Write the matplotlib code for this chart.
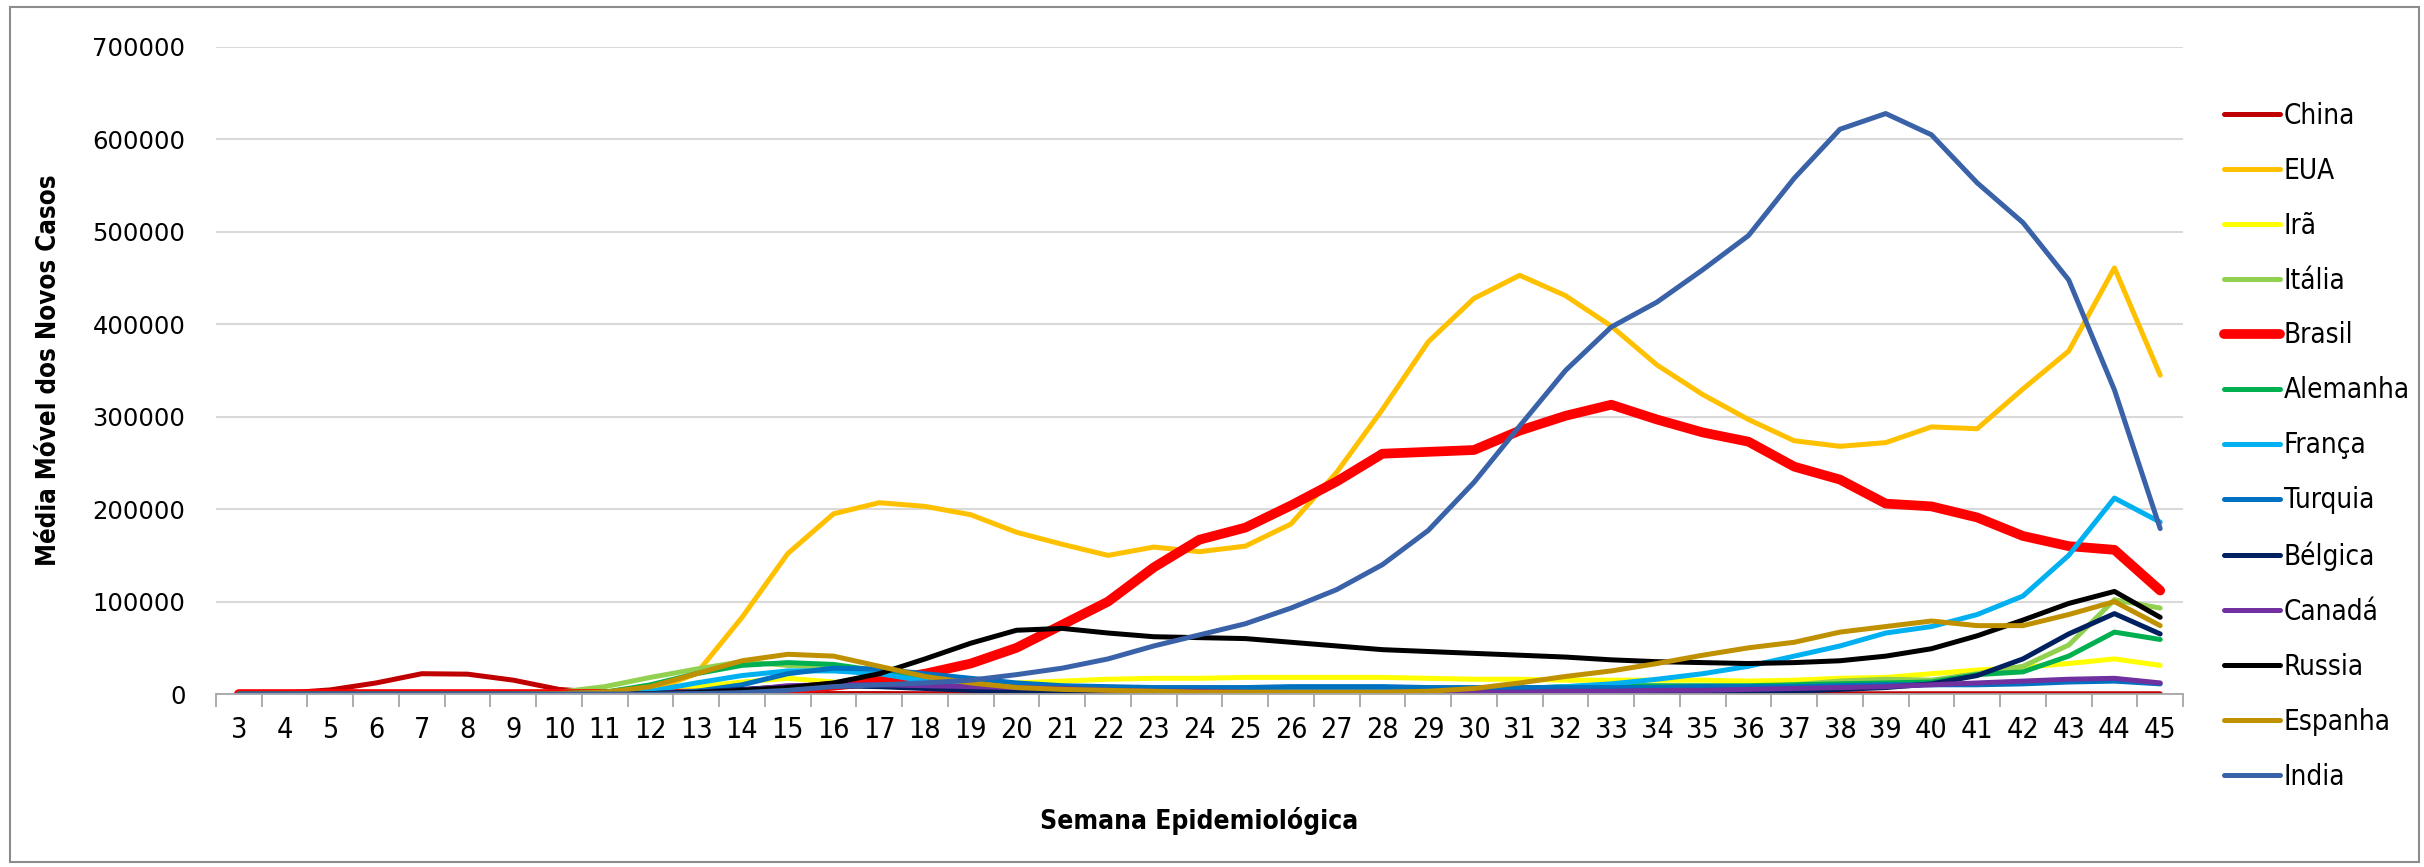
import matplotlib
matplotlib.use('Agg')
import matplotlib.pyplot as plt
from matplotlib.patches import Rectangle
import numpy as np

weeks = list(range(3, 46))

china = [500, 1000, 4500, 12000, 22000, 21500, 15000, 5000, 1500, 800, 600, 500, 500, 500, 500, 400, 400, 300, 300, 300,
         300, 300, 300, 300, 300, 300, 300, 300, 300, 300, 300, 300, 300, 300, 300, 300, 300, 300, 300, 300, 300, 300, 300]
eua = [0, 0, 0, 0, 0, 0, 0, 0, 500, 3000, 22000, 83000, 152000, 195000, 207000, 203000, 194000, 175000, 162000, 150000,
       159000, 154000, 160000, 184000, 240000, 308000, 381000, 428000, 453000, 431000, 398000, 356000, 324000, 297000,
       274000, 268000, 272000, 289000, 287000, 330000, 371000, 461000, 345000]
ira = [0, 0, 0, 0, 0, 0, 0, 500, 2000, 4000, 8000, 13000, 17000, 13000, 9000, 8000, 9000, 12000, 14000, 16000, 17000,
       17000, 18000, 18000, 18000, 18000, 17000, 16000, 16000, 15000, 15000, 15000, 15000, 14000, 15000, 17000, 18000,
       22000, 26000, 29000, 33000, 38000, 31000]
italia = [0, 0, 0, 0, 0, 0, 0, 2000, 8000, 18000, 27000, 35000, 31000, 28000, 20000, 12000, 7000, 5000, 3000, 2000,
          2000, 2000, 2000, 2000, 2000, 2000, 2000, 2000, 2000, 2500, 3000, 4000, 5000, 7000, 10000, 14000, 16000, 15000,
          22000, 30000, 53000, 102000, 93000]
brasil = [0, 0, 0, 0, 0, 0, 0, 0, 0, 100, 500, 2000, 5000, 9000, 14000, 22000, 33000, 50000, 75000, 100000, 137000,
          167000, 180000, 204000, 230000, 260000, 262000, 264000, 285000, 301000, 313000, 297000, 283000, 273000,
          246000, 232000, 206000, 203000, 191000, 171000, 160000, 156000, 112000]
alemanha = [0, 0, 0, 0, 0, 0, 0, 500, 2000, 10000, 22000, 31000, 34000, 32000, 25000, 15000, 9000, 5000, 4000, 3000,
            3000, 2000, 3000, 3000, 3000, 3000, 4000, 5000, 6000, 8000, 9000, 9000, 9000, 9000, 10000, 11000, 12000,
            13000, 21000, 24000, 41000, 67000, 59000]
franca = [0, 0, 0, 0, 0, 0, 0, 0, 500, 3000, 12000, 20000, 25000, 25000, 22000, 14000, 8000, 5000, 4000, 4000, 3000,
          3000, 3000, 3000, 3000, 4000, 5000, 5000, 6000, 8000, 11000, 16000, 22000, 30000, 41000, 52000, 66000, 73000,
          86000, 106000, 150000, 212000, 186000]
turquia = [0, 0, 0, 0, 0, 0, 0, 0, 0, 0, 3000, 10000, 22000, 28000, 27000, 22000, 17000, 12000, 9000, 8000, 7000,
           7000, 7000, 8000, 8000, 8000, 7000, 7000, 7000, 7000, 7000, 7000, 8000, 8000, 8000, 9000, 10000, 10000,
           10000, 11000, 13000, 14000, 11000]
belgica = [0, 0, 0, 0, 0, 0, 0, 0, 0, 500, 2000, 5000, 8000, 9000, 8000, 6000, 4000, 3000, 2000, 1500, 1000, 1000,
           1000, 1000, 1000, 1000, 1000, 1000, 1000, 1000, 1000, 1000, 1500, 2000, 3000, 5000, 7000, 11000, 20000,
           38000, 65000, 87000, 65000]
canada = [0, 0, 0, 0, 0, 0, 0, 0, 0, 500, 1500, 4000, 9000, 10000, 10000, 9000, 8000, 7000, 6000, 4000, 3000, 3000,
          2000, 2000, 2000, 2000, 2000, 2000, 2000, 3000, 3000, 4000, 4000, 5000, 6000, 7000, 8000, 10000, 12000,
          14000, 16000, 17000, 12000]
russia = [0, 0, 0, 0, 0, 0, 0, 0, 0, 500, 1500, 4000, 7000, 12000, 22000, 38000, 55000, 69000, 71000, 66000, 62000,
          61000, 60000, 56000, 52000, 48000, 46000, 44000, 42000, 40000, 37000, 35000, 34000, 33000, 34000, 36000,
          41000, 49000, 63000, 80000, 98000, 111000, 83000]
espanha = [0, 0, 0, 0, 0, 0, 0, 500, 2000, 8000, 22000, 36000, 43000, 41000, 30000, 19000, 12000, 7000, 5000, 4000,
           3000, 2000, 2000, 2000, 2000, 2000, 3000, 6000, 12000, 19000, 25000, 33000, 42000, 50000, 56000, 67000,
           73000, 79000, 74000, 74000, 86000, 100000, 74000]
india = [0, 0, 0, 0, 0, 0, 0, 0, 0, 0, 500, 1500, 4000, 8000, 10000, 12000, 15000, 21000, 28000, 38000, 52000, 64000,
         76000, 93000, 113000, 140000, 177000, 229000, 290000, 350000, 397000, 424000, 459000, 496000, 558000, 611000,
         628000, 605000, 553000, 510000, 448000, 329000, 179000]

names = ['China', 'EUA', 'Irã', 'Itália', 'Brasil', 'Alemanha', 'França', 'Turquia', 'Bélgica', 'Canadá',
         'Russia', 'Espanha', 'India']
series = [china, eua, ira, italia, brasil, alemanha, franca, turquia, belgica, canada, russia, espanha, india]
colors = ['#C00000', '#FFC000', '#FFFF00', '#92D050', '#FF0000', '#00B050', '#00B0F0', '#0070C0', '#002060',
          '#7030A0', '#000000', '#BF9000', '#3A62A8']

fig = plt.figure(figsize=(24.24, 8.67), dpi=100)
ax = fig.add_axes([0.0891, 0.1995, 0.8115, 0.7463])

x = np.arange(len(weeks))
for name, vals, c in zip(names, series, colors):
    lw = 7.0 if name == 'Brasil' else 3.6
    ax.plot(x, vals, color=c, lw=lw, label=name, solid_capstyle='round', solid_joinstyle='round')

ax.set_xlim(-0.5, len(weeks) - 0.5)
ax.set_ylim(0, 700000)
ax.set_yticks(range(0, 700001, 100000))
ax.set_yticklabels([str(v) for v in range(0, 700001, 100000)], fontsize=17.5, family='DejaVu Sans')
ax.yaxis.grid(True, color='#D9D9D9', lw=1.5)
ax.set_axisbelow(True)
ax.tick_params(axis='y', length=0, pad=22)

ax.set_xticks(x)
ax.set_xticklabels([str(w) for w in weeks], fontsize=20.5, family='DejaVu Sans', stretch='condensed')
ax.set_xticks(np.arange(-0.5, len(weeks), 1.0), minor=True)
ax.tick_params(axis='x', which='major', length=0, pad=16)
ax.tick_params(axis='x', which='minor', length=9, width=1.3, color='#A6A6A6')

for s in ['top', 'right', 'left']:
    ax.spines[s].set_visible(False)
ax.spines['bottom'].set_color('#A6A6A6')
ax.spines['bottom'].set_linewidth(1.3)

ax.set_ylabel('Média Móvel dos Novos Casos', fontsize=18.5, fontweight='bold', family='DejaVu Sans',
              stretch='condensed', labelpad=22)
ax.set_xlabel('Semana Epidemiológica', fontsize=19, fontweight='bold', family='DejaVu Sans',
              stretch='condensed', labelpad=45)

leg = fig.legend(loc='upper left', bbox_to_anchor=(0.913, 0.8955), frameon=False,
                 prop={'family': 'DejaVu Sans', 'stretch': 'condensed', 'size': 20},
                 handlelength=2.0, handletextpad=0.15, labelspacing=0.97, borderaxespad=0)

fig.patches.append(Rectangle((0.004, 0.006), 0.994, 0.986, transform=fig.transFigure, fill=False,
                             edgecolor='#8C8C8C', lw=1.5))

fig.savefig('out.png', dpi=100)
